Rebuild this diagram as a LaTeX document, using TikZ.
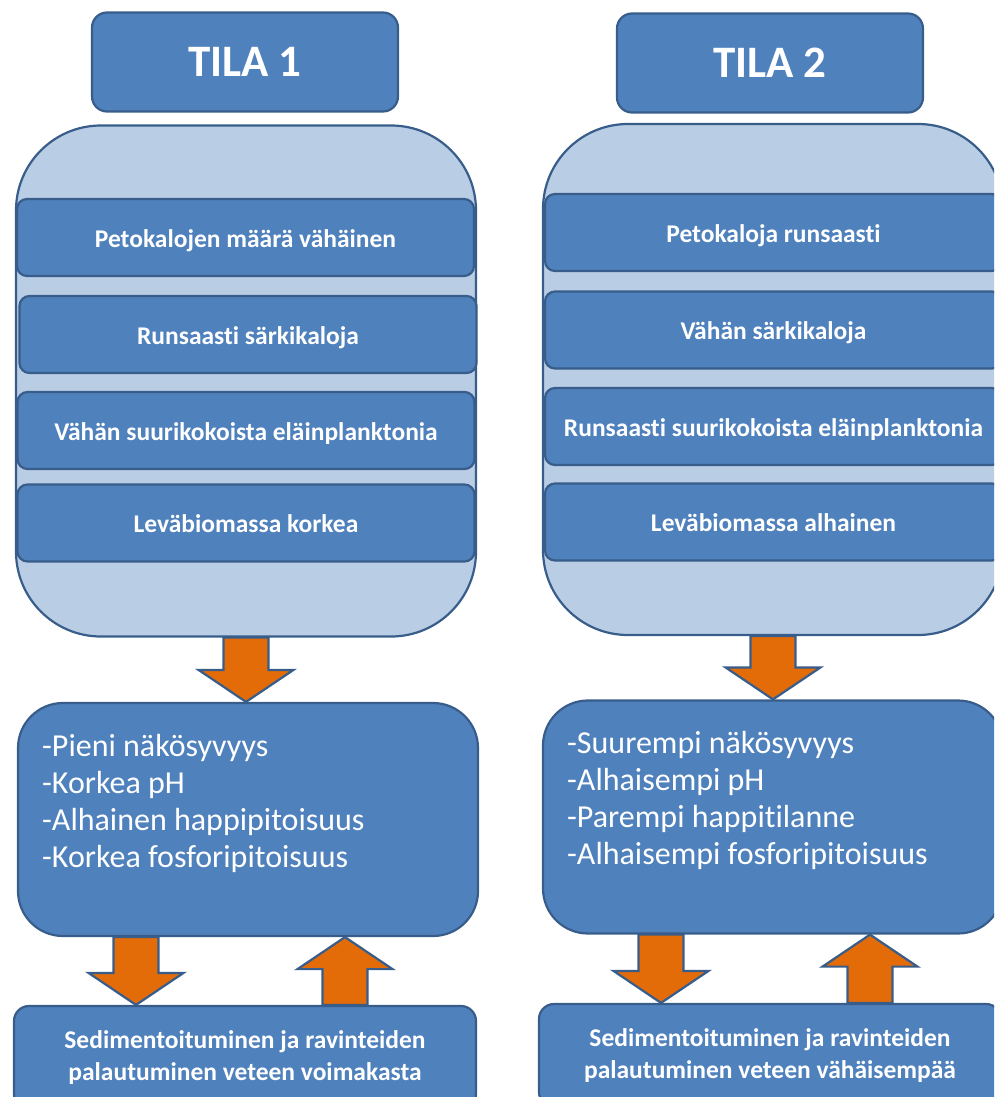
\documentclass[tikz,border=0pt]{standalone}
\usepackage{fontspec}
\setmainfont{Carlito}[RawFeature={-liga}]
\usetikzlibrary{calc}
\definecolor{boxblue}{HTML}{4F81BD}
\definecolor{edgeblue}{HTML}{385D8A}
\definecolor{lightblue}{HTML}{B9CDE5}
\definecolor{arroworange}{HTML}{E36C09}
\tikzset{
  base/.style={draw=edgeblue, line width=2.2pt, text=white, inner sep=0pt, align=center},
  titlebox/.style={base, fill=boxblue, rounded corners=15pt, minimum width=306pt, minimum height=99pt, font=\fontsize{45}{48}\selectfont\bfseries},
  outerbox/.style={draw=edgeblue, line width=2.2pt, fill=lightblue, rounded corners=85pt, minimum width=460pt, minimum height=511pt, inner sep=0pt},
  itembox/.style={base, fill=boxblue, rounded corners=10pt, minimum width=457pt, minimum height=77pt, text height=19.5pt, text depth=0pt, font=\fontsize{25.5}{30}\selectfont\bfseries},
  resbox/.style={base, fill=boxblue, rounded corners=45pt, minimum width=460pt, minimum height=233pt},
  restext/.style={text=white, anchor=base west, inner sep=0pt, font=\fontsize{32}{37}\selectfont},
  sedbox/.style={base, fill=boxblue, rounded corners=15pt, minimum width=462pt, minimum height=103pt, font=\fontsize{25.5}{32}\selectfont\bfseries},
  barrow/.style={draw=edgeblue, line width=2.2pt, fill=arroworange, line join=miter}
}
\newcommand\blkdown[2]{%
  \draw[barrow] let \p1=(#1), \p2=(#2) in
    (\x1-22.5pt,\y1) -- (\x1+22.5pt,\y1) -- (\x1+22.5pt,\y2+32pt) -- (\x1+47.5pt,\y2+32pt)
    -- (\x1,\y2) -- (\x1-47.5pt,\y2+32pt) -- (\x1-22.5pt,\y2+32pt) -- cycle;}
\newcommand\blkup[2]{%
  \draw[barrow] let \p1=(#1), \p2=(#2) in
    (\x1-22.5pt,\y1) -- (\x1+22.5pt,\y1) -- (\x1+22.5pt,\y2-32pt) -- (\x1+47.5pt,\y2-32pt)
    -- (\x1,\y2) -- (\x1-47.5pt,\y2-32pt) -- (\x1-22.5pt,\y2-32pt) -- cycle;}
\begin{document}
\begin{tikzpicture}[x=1pt, y=-1pt]
\useasboundingbox (0,0) rectangle (994,1097);
\clip (0,0) rectangle (994,1097);
% ---- left column
\node[titlebox] (t1) at (245,62) {TILA 1};
\node[outerbox] (big1) at (246,381) {};
\node[itembox] (l1) at (245.5,237.5) {Petokalojen määrä vähäinen};
\node[itembox] (l2) at (248,334.5) {Runsaasti särkikaloja};
\node[itembox] (l3) at (246,430.5) {Vähän suurikokoista eläinplanktonia};
\node[itembox] (l4) at (246,523) {Leväbiomassa korkea};
\node[resbox] (res1) at (248,819.5) {};
\node[restext] (rt1a) at (42,756) {-Pieni näkösyvyys};
\node[restext] (rt1b) at (42,793) {-Korkea pH};
\node[restext] (rt1c) at (42,830) {-Alhainen happipitoisuus};
\node[restext] (rt1d) at (42,867) {-Korkea fosforipitoisuus};
\node[sedbox] (sed1) at (245,1057.5) {Sedimentoituminen ja ravinteiden\\palautuminen veteen voimakasta};
% ---- right column
\node[titlebox] (t2) at (770,63) {TILA 2};
\node[outerbox] (big2) at (773,379.5) {};
\node[itembox] (r1) at (773.5,232.5) {Petokaloja runsaasti};
\node[itembox] (r2) at (773.5,330) {Vähän särkikaloja};
\node[itembox] (r3) at (773.5,426.5) {Runsaasti suurikokoista eläinplanktonia};
\node[itembox] (r4) at (773.5,522) {Leväbiomassa alhainen};
\node[resbox] (res2) at (773,817) {};
\node[restext] (rt2a) at (567,753) {-Suurempi näkösyvyys};
\node[restext] (rt2b) at (567,790) {-Alhaisempi pH};
\node[restext] (rt2c) at (567,827) {-Parempi happitilanne};
\node[restext] (rt2d) at (567,864) {-Alhaisempi fosforipitoisuus};
\node[sedbox] (sed2) at (770,1055.5) {Sedimentoituminen ja ravinteiden\\palautuminen veteen vähäisempää};
% ---- arrows
\blkdown{big1.south}{big1.south |- res1.north}
\blkdown{big2.south}{big2.south |- res2.north}
\coordinate (d1) at ($(res1.south)+(-112,0)$);
\coordinate (u1) at ($(sed1.north)+(100,0)$);
\blkdown{d1}{d1 |- sed1.north}
\blkup{u1}{u1 |- res1.south}
\coordinate (d2) at ($(res2.south)+(-112,0)$);
\coordinate (u2) at ($(sed2.north)+(100,0)$);
\blkdown{d2}{d2 |- sed2.north}
\blkup{u2}{u2 |- res2.south}
\end{tikzpicture}
\end{document}
